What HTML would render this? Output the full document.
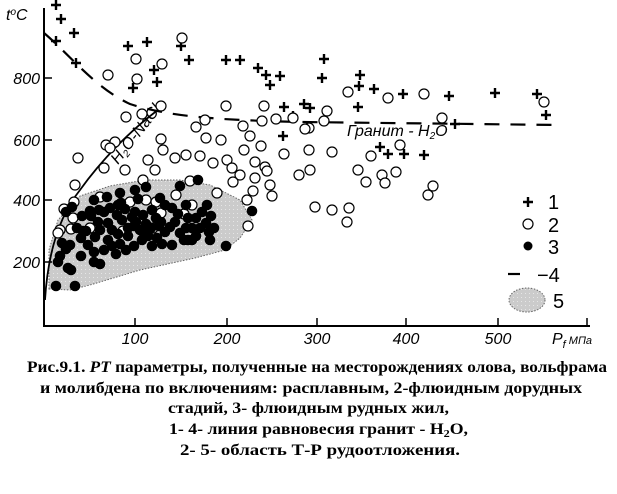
<!DOCTYPE html>
<html><head><meta charset="utf-8"><style>
html,body{margin:0;padding:0;background:#fff;width:617px;height:494px;overflow:hidden}
svg{display:block}
.ax{font-family:"Liberation Sans",sans-serif;font-style:italic;font-size:16px;fill:#000}
.cap{font-family:"Liberation Serif",serif;font-weight:bold;font-size:16px;fill:#000}
</style></head><body>
<svg width="617" height="494" viewBox="0 0 617 494" xmlns="http://www.w3.org/2000/svg">
<defs>
<pattern id="dots" width="4" height="4" patternUnits="userSpaceOnUse"><rect width="4" height="4" fill="#cbcbcb"/><rect x="1" y="1" width="1" height="1" fill="#e6e6e6"/></pattern>
<g id="p"><path d="M-5 0H5M0 -5V5" stroke="#000" stroke-width="2.4"/></g>
<circle id="o" r="5" fill="#fff" stroke="#000" stroke-width="1.2"/>
<circle id="f" r="5.3" fill="#000"/>
</defs>
<path d="M49 289 L49 250 L58 220 L80 196 L110 186 L145 180 L180 180 L210 185 L240 200 L252 220 L240 238 L225 250 L195 258 L140 270 L90 285 L70 290 Z" fill="url(#dots)" stroke="#666" stroke-width="1" stroke-dasharray="1.5 1.5"/>
<path d="M44 8 V326 H590" stroke="#000" stroke-width="2" fill="none"/>
<g stroke="#000" stroke-width="1.5">
<path d="M44 78H52M44 140H52M44 200H52M44 262H52"/>
<path d="M135 326V318M227 326V318M317 326V318M406 326V318M498 326V318M587 326V318"/>
</g>
<path d="M45 300 C48 250 60 215 80 190 C100 162 130 130 162 107" stroke="#000" stroke-width="1.8" fill="none"/>
<path d="M44 33 C70 55 95 88 130 104 C170 117 220 120 300 122 L560 125" stroke="#000" stroke-width="2.2" fill="none" stroke-dasharray="15 11"/>
<text transform="translate(118 165) rotate(-52)" class="ax" font-size="14" fill="#000">H<tspan font-size="10" dy="3">2</tspan><tspan dy="-3">O-NaCl</tspan></text>
<text x="347" y="136" class="ax" font-size="14">Гранит - H<tspan font-size="10" dy="3">2</tspan><tspan dy="-3">O</tspan></text>
<g>
<use href="#p" x="56" y="5"/><use href="#p" x="61" y="19"/><use href="#p" x="56" y="41"/><use href="#p" x="74" y="33"/><use href="#p" x="76" y="63"/><use href="#p" x="128" y="46"/><use href="#p" x="147" y="42"/><use href="#p" x="181" y="46"/><use href="#p" x="189" y="60"/><use href="#p" x="133" y="88"/><use href="#p" x="154" y="70"/><use href="#p" x="157" y="82"/><use href="#p" x="226" y="60"/><use href="#p" x="240" y="60"/><use href="#p" x="258" y="68"/><use href="#p" x="266" y="75"/><use href="#p" x="270" y="85"/><use href="#p" x="280" y="76"/><use href="#p" x="284" y="107"/><use href="#p" x="283" y="136"/><use href="#p" x="293" y="116"/><use href="#p" x="304" y="104"/><use href="#p" x="310" y="108"/>
<use href="#p" x="324" y="59"/><use href="#p" x="322" y="78"/><use href="#p" x="360" y="75"/><use href="#p" x="359" y="86"/><use href="#p" x="374" y="89"/><use href="#p" x="358" y="107"/><use href="#p" x="403" y="94"/><use href="#p" x="449" y="96"/><use href="#p" x="495" y="93"/><use href="#p" x="537" y="94"/><use href="#p" x="546" y="115"/><use href="#p" x="455" y="124"/><use href="#p" x="380" y="147"/><use href="#p" x="388" y="154"/><use href="#p" x="404" y="154"/><use href="#p" x="424" y="155"/>
</g>
<g>
<use href="#o" x="182" y="38"/><use href="#o" x="136" y="59"/><use href="#o" x="162" y="64"/><use href="#o" x="108" y="75"/><use href="#o" x="137" y="79"/><use href="#o" x="161" y="106"/><use href="#o" x="226" y="106"/><use href="#o" x="264" y="106"/><use href="#o" x="126" y="117"/><use href="#o" x="142" y="114"/><use href="#o" x="205" y="120"/><use href="#o" x="196" y="127"/><use href="#o" x="243" y="126"/><use href="#o" x="221" y="140"/><use href="#o" x="106" y="145"/><use href="#o" x="115" y="142"/><use href="#o" x="161" y="139"/><use href="#o" x="206" y="138"/><use href="#o" x="250" y="136"/><use href="#o" x="262" y="121"/><use href="#o" x="276" y="119"/><use href="#o" x="244" y="150"/><use href="#o" x="293" y="118"/><use href="#o" x="309" y="128"/><use href="#o" x="78" y="158"/><use href="#o" x="110" y="148"/><use href="#o" x="163" y="150"/><use href="#o" x="186" y="155"/><use href="#o" x="200" y="156"/><use href="#o" x="175" y="158"/><use href="#o" x="227" y="160"/><use href="#o" x="213" y="163"/><use href="#o" x="232" y="168"/><use href="#o" x="261" y="146"/><use href="#o" x="255" y="162"/><use href="#o" x="265" y="167"/><use href="#o" x="284" y="154"/><use href="#o" x="309" y="150"/><use href="#o" x="299" y="175"/><use href="#o" x="240" y="175"/><use href="#o" x="267" y="171"/><use href="#o" x="255" y="178"/><use href="#o" x="270" y="185"/><use href="#o" x="253" y="191"/><use href="#o" x="272" y="196"/><use href="#o" x="247" y="200"/><use href="#o" x="75" y="185"/><use href="#o" x="155" y="170"/><use href="#o" x="143" y="180"/><use href="#o" x="125" y="170"/><use href="#o" x="104" y="168"/><use href="#o" x="233" y="182"/><use href="#o" x="190" y="181"/><use href="#o" x="217" y="193"/><use href="#o" x="156" y="202"/><use href="#o" x="74" y="202"/><use href="#o" x="64" y="209"/><use href="#o" x="60" y="230"/><use href="#o" x="100" y="197"/><use href="#o" x="146" y="200"/><use href="#o" x="130" y="202"/><use href="#o" x="161" y="213"/><use href="#o" x="176" y="195"/><use href="#o" x="192" y="205"/><use href="#o" x="153" y="228"/><use href="#o" x="184" y="214"/><use href="#o" x="123" y="231"/><use href="#o" x="90" y="228"/><use href="#o" x="71" y="229"/><use href="#o" x="58" y="233"/><use href="#o" x="248" y="226"/><use href="#o" x="73" y="218"/><use href="#o" x="148" y="160"/>
<use href="#o" x="348" y="92"/><use href="#o" x="388" y="98"/><use href="#o" x="424" y="94"/><use href="#o" x="327" y="111"/><use href="#o" x="324" y="121"/><use href="#o" x="305" y="129"/><use href="#o" x="442" y="118"/><use href="#o" x="332" y="152"/><use href="#o" x="400" y="145"/><use href="#o" x="371" y="156"/><use href="#o" x="310" y="170"/><use href="#o" x="358" y="170"/><use href="#o" x="366" y="182"/><use href="#o" x="382" y="175"/><use href="#o" x="385" y="183"/><use href="#o" x="396" y="172"/><use href="#o" x="433" y="186"/><use href="#o" x="428" y="195"/><use href="#o" x="315" y="207"/><use href="#o" x="332" y="210"/><use href="#o" x="349" y="208"/><use href="#o" x="347" y="222"/><use href="#o" x="544" y="102"/>
</g>
<g>
<use href="#f" x="56" y="286"/><use href="#f" x="75" y="286"/><use href="#f" x="68" y="268"/><use href="#f" x="60" y="256"/><use href="#f" x="66" y="249"/><use href="#f" x="81" y="256"/><use href="#f" x="81" y="238"/><use href="#f" x="70" y="245"/><use href="#f" x="62" y="243"/><use href="#f" x="77" y="228"/><use href="#f" x="58" y="262"/><use href="#f" x="83" y="231"/><use href="#f" x="88" y="245"/><use href="#f" x="95" y="237"/><use href="#f" x="91" y="216"/><use href="#f" x="98" y="222"/><use href="#f" x="99" y="210"/><use href="#f" x="104" y="212"/><use href="#f" x="110" y="208"/><use href="#f" x="112" y="230"/><use href="#f" x="118" y="234"/><use href="#f" x="117" y="215"/><use href="#f" x="118" y="205"/><use href="#f" x="122" y="220"/><use href="#f" x="125" y="209"/><use href="#f" x="135" y="212"/><use href="#f" x="136" y="222"/><use href="#f" x="140" y="230"/><use href="#f" x="144" y="233"/><use href="#f" x="142" y="240"/><use href="#f" x="148" y="236"/><use href="#f" x="152" y="246"/><use href="#f" x="157" y="238"/><use href="#f" x="161" y="222"/><use href="#f" x="165" y="205"/><use href="#f" x="172" y="208"/><use href="#f" x="175" y="222"/><use href="#f" x="180" y="233"/><use href="#f" x="186" y="228"/><use href="#f" x="188" y="240"/><use href="#f" x="196" y="236"/><use href="#f" x="200" y="228"/><use href="#f" x="209" y="232"/><use href="#f" x="206" y="223"/><use href="#f" x="207" y="205"/><use href="#f" x="198" y="180"/><use href="#f" x="180" y="186"/><use href="#f" x="146" y="187"/><use href="#f" x="135" y="190"/><use href="#f" x="121" y="203"/><use href="#f" x="132" y="217"/><use href="#f" x="138" y="199"/><use href="#f" x="152" y="210"/><use href="#f" x="159" y="226"/><use href="#f" x="165" y="232"/><use href="#f" x="170" y="227"/><use href="#f" x="172" y="245"/><use href="#f" x="184" y="240"/><use href="#f" x="192" y="240"/><use href="#f" x="210" y="240"/><use href="#f" x="214" y="228"/><use href="#f" x="211" y="216"/><use href="#f" x="226" y="246"/><use href="#f" x="252" y="211"/><use href="#f" x="82" y="216"/><use href="#f" x="90" y="211"/><use href="#f" x="94" y="200"/><use href="#f" x="107" y="197"/><use href="#f" x="100" y="230"/><use href="#f" x="108" y="223"/><use href="#f" x="128" y="236"/><use href="#f" x="134" y="226"/><use href="#f" x="143" y="215"/><use href="#f" x="151" y="228"/><use href="#f" x="162" y="244"/><use href="#f" x="186" y="205"/><use href="#f" x="188" y="218"/><use href="#f" x="196" y="218"/><use href="#f" x="86" y="231"/><use href="#f" x="94" y="262"/><use href="#f" x="100" y="264"/><use href="#f" x="71" y="270"/><use href="#f" x="104" y="250"/><use href="#f" x="112" y="246"/><use href="#f" x="120" y="244"/><use href="#f" x="126" y="250"/><use href="#f" x="134" y="246"/><use href="#f" x="128" y="228"/><use href="#f" x="156" y="218"/><use href="#f" x="178" y="214"/><use href="#f" x="202" y="212"/><use href="#f" x="94" y="252"/><use href="#f" x="108" y="240"/><use href="#f" x="116" y="254"/><use href="#f" x="72" y="207"/><use href="#f" x="66" y="212"/><use href="#f" x="120" y="193"/><use href="#f" x="160" y="198"/><use href="#f" x="192" y="228"/><use href="#f" x="146" y="224"/>
</g>
<use href="#p" x="528" y="202"/><text x="548" y="209" font-family="Liberation Sans,sans-serif" font-size="20">1</text>
<circle cx="528" cy="224" r="5" fill="#fff" stroke="#000" stroke-width="1.2"/><text x="548" y="232" font-family="Liberation Sans,sans-serif" font-size="20">2</text>
<circle cx="528" cy="246" r="4.5" fill="#000"/><text x="548" y="254" font-family="Liberation Sans,sans-serif" font-size="20">3</text>
<path d="M508 274H520" stroke="#000" stroke-width="2.2"/><text x="537" y="282" font-family="Liberation Sans,sans-serif" font-size="20">−4</text>
<ellipse cx="527" cy="300" rx="18" ry="12" fill="url(#dots)" stroke="#666" stroke-dasharray="1.5 1.5"/><text x="553" y="308" font-family="Liberation Sans,sans-serif" font-size="20">5</text>
<text x="6" y="20" class="ax" font-size="15">t<tspan font-size="10" dy="-5">o</tspan><tspan dy="5">C</tspan></text>
<text x="40" y="84" class="ax" text-anchor="end">800</text>
<text x="40" y="146" class="ax" text-anchor="end">600</text>
<text x="40" y="206" class="ax" text-anchor="end">400</text>
<text x="40" y="268" class="ax" text-anchor="end">200</text>
<text x="135" y="344" class="ax" text-anchor="middle">100</text>
<text x="227" y="344" class="ax" text-anchor="middle">200</text>
<text x="317" y="344" class="ax" text-anchor="middle">300</text>
<text x="406" y="344" class="ax" text-anchor="middle">400</text>
<text x="498" y="344" class="ax" text-anchor="middle">500</text>
<text x="552" y="344" class="ax" font-size="16">P<tspan font-size="11" dy="4">f</tspan><tspan font-size="11" dy="-4"> МПа</tspan></text>
<text x="27" y="372" class="cap" textLength="580" lengthAdjust="spacingAndGlyphs">Рис.9.1. <tspan font-style="italic">PT</tspan> параметры, полученные на месторождениях олова, вольфрама</text>
<text x="40" y="393" class="cap" textLength="542" lengthAdjust="spacingAndGlyphs">и молибдена по включениям: расплавным, 2-флюидным дорудных</text>
<text x="168" y="413" class="cap" textLength="281" lengthAdjust="spacingAndGlyphs">стадий, 3- флюидным рудных жил,</text>
<text x="169" y="434" class="cap" textLength="299" lengthAdjust="spacingAndGlyphs">1-  4- линия равновесия гранит - H<tspan font-size="11" dy="3">2</tspan><tspan dy="-3">O,</tspan></text>
<text x="180" y="455" class="cap" textLength="280" lengthAdjust="spacingAndGlyphs">2-  5- область Т-Р рудоотложения.</text>
</svg>
</body></html>
